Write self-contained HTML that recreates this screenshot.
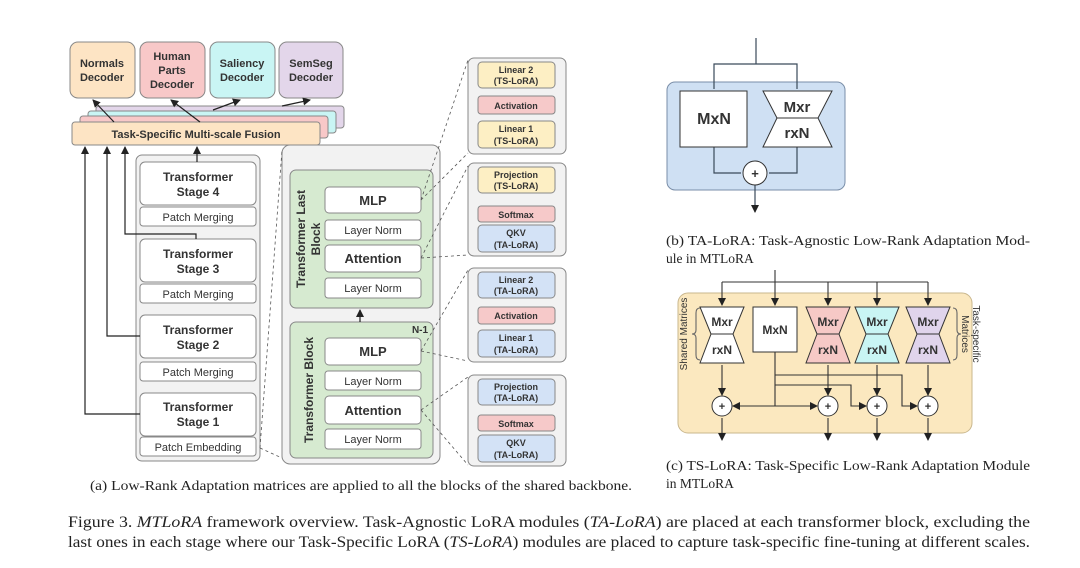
<!DOCTYPE html>
<html><head><meta charset="utf-8"><style>
html,body{margin:0;padding:0;background:#fff}
svg{display:block}
text{font-family:"Liberation Sans",sans-serif;font-weight:bold;fill:#333;text-anchor:middle}
.s{font-family:"Liberation Serif",serif;font-weight:normal;fill:#222;text-anchor:start}
</style></head><body>
<svg width="1080" height="568" viewBox="0 0 1080 568" xmlns="http://www.w3.org/2000/svg">
<defs>
<marker id="a" markerWidth="8" markerHeight="8" refX="7" refY="4" orient="auto" markerUnits="userSpaceOnUse"><path d="M0,0 L8,4 L0,8 z" fill="#222"/></marker>
</defs>
<g stroke="#888" stroke-width="1">
<rect x="70" y="42" width="65" height="56" rx="8" fill="#fde4c4"/>
<rect x="140" y="42" width="65" height="56" rx="8" fill="#f8c8c8"/>
<rect x="210" y="42" width="65" height="56" rx="8" fill="#c9f5f4"/>
<rect x="279" y="42" width="64" height="56" rx="8" fill="#e3d6ea"/>
<rect x="96" y="106" width="248" height="22" rx="3" fill="#e3d6ea"/>
<rect x="88" y="111" width="248" height="22" rx="3" fill="#c9f5f4"/>
<rect x="80" y="116" width="248" height="22" rx="3" fill="#f8c8c8"/>
<rect x="72" y="122" width="248" height="23" rx="3" fill="#fde4c4"/>
<rect x="136" y="155" width="124" height="306" rx="6" fill="#f2f2f2"/>
<rect x="140" y="162" width="116" height="43" rx="5" fill="#fff"/>
<rect x="140" y="207" width="116" height="19" rx="3" fill="#fff"/>
<rect x="140" y="239" width="116" height="43" rx="5" fill="#fff"/>
<rect x="140" y="284" width="116" height="19" rx="3" fill="#fff"/>
<rect x="140" y="315" width="116" height="43" rx="5" fill="#fff"/>
<rect x="140" y="362" width="116" height="19" rx="3" fill="#fff"/>
<rect x="140" y="393" width="116" height="43" rx="5" fill="#fff"/>
<rect x="140" y="437" width="116" height="19" rx="3" fill="#fff"/>
<rect x="282" y="145" width="158" height="319" rx="8" fill="#f2f2f2"/>
<rect x="290" y="170" width="143" height="138" rx="6" fill="#d6ead0"/>
<rect x="290" y="322" width="143" height="136" rx="6" fill="#d6ead0"/>
<rect x="325" y="187" width="96" height="26" rx="4" fill="#fff"/>
<rect x="325" y="220" width="96" height="20" rx="3" fill="#fff"/>
<rect x="325" y="245" width="96" height="27" rx="4" fill="#fff"/>
<rect x="325" y="278" width="96" height="20" rx="3" fill="#fff"/>
<rect x="325" y="338" width="96" height="27" rx="4" fill="#fff"/>
<rect x="325" y="371" width="96" height="19" rx="3" fill="#fff"/>
<rect x="325" y="396" width="96" height="28" rx="4" fill="#fff"/>
<rect x="325" y="429" width="96" height="20" rx="3" fill="#fff"/>
<rect x="468" y="58" width="98" height="96" rx="6" fill="#f2f2f2"/>
<rect x="468" y="163" width="98" height="93" rx="6" fill="#f2f2f2"/>
<rect x="468" y="268" width="98" height="94" rx="6" fill="#f2f2f2"/>
<rect x="468" y="375" width="98" height="91" rx="6" fill="#f2f2f2"/>
<rect x="478" y="62" width="77" height="26" rx="4" fill="#fdefc4"/>
<rect x="478" y="96" width="77" height="18" rx="3" fill="#f6c9c9"/>
<rect x="478" y="121" width="77" height="27" rx="4" fill="#fdefc4"/>
<rect x="478" y="167" width="77" height="26" rx="4" fill="#fdefc4"/>
<rect x="478" y="206" width="77" height="16" rx="3" fill="#f6c9c9"/>
<rect x="478" y="225" width="77" height="27" rx="4" fill="#d3e2f6"/>
<rect x="478" y="272" width="77" height="26" rx="4" fill="#d3e2f6"/>
<rect x="478" y="307" width="77" height="17" rx="3" fill="#f6c9c9"/>
<rect x="478" y="330" width="77" height="27" rx="4" fill="#d3e2f6"/>
<rect x="478" y="379" width="77" height="26" rx="4" fill="#d3e2f6"/>
<rect x="478" y="415" width="77" height="16" rx="3" fill="#f6c9c9"/>
<rect x="478" y="435" width="77" height="27" rx="4" fill="#d3e2f6"/>
</g>
<g fill="none" stroke="#222" stroke-width="1.2">
<line x1="114" y1="122" x2="93" y2="100" marker-end="url(#a)"/>
<line x1="200" y1="122" x2="171" y2="100" marker-end="url(#a)"/>
<line x1="213" y1="110" x2="240" y2="100" marker-end="url(#a)"/>
<line x1="282" y1="106" x2="310" y2="100" marker-end="url(#a)"/>
<line x1="197" y1="162" x2="197" y2="147" marker-end="url(#a)"/>
<polyline points="196,239 196,234 125,234 125,147" marker-end="url(#a)"/>
<polyline points="140,336 107,336 107,147" marker-end="url(#a)"/>
<polyline points="140,414 85,414 85,147" marker-end="url(#a)"/>
<line x1="360" y1="322" x2="360" y2="310" marker-end="url(#a)"/>
</g>
<g fill="none" stroke="#555" stroke-width="0.8" stroke-dasharray="3,3">
<line x1="260" y1="448" x2="282" y2="458"/><line x1="260" y1="448" x2="282" y2="150"/>
<line x1="421" y1="200" x2="468" y2="60"/><line x1="421" y1="200" x2="468" y2="153"/>
<line x1="421" y1="258" x2="468" y2="166"/><line x1="421" y1="258" x2="468" y2="255"/>
<line x1="421" y1="351" x2="468" y2="270"/><line x1="421" y1="351" x2="468" y2="361"/>
<line x1="421" y1="410" x2="468" y2="377"/><line x1="421" y1="410" x2="468" y2="465"/>
</g>
<g font-size="11">
<text x="102" y="67">Normals</text><text x="102" y="81">Decoder</text>
<text x="172" y="60">Human</text><text x="172" y="74">Parts</text><text x="172" y="88">Decoder</text>
<text x="242" y="67">Saliency</text><text x="242" y="81">Decoder</text>
<text x="311" y="67">SemSeg</text><text x="311" y="81">Decoder</text>
<text x="196" y="138">Task-Specific Multi-scale Fusion</text>
</g>
<g font-size="12">
<text x="198" y="181">Transformer</text><text x="198" y="196">Stage 4</text>
<text x="198" y="258">Transformer</text><text x="198" y="273">Stage 3</text>
<text x="198" y="334">Transformer</text><text x="198" y="349">Stage 2</text>
<text x="198" y="411">Transformer</text><text x="198" y="426">Stage 1</text>
</g>
<g font-size="11">
<text x="198" y="221" style="font-weight:normal">Patch Merging</text>
<text x="198" y="298" style="font-weight:normal">Patch Merging</text>
<text x="198" y="376" style="font-weight:normal">Patch Merging</text>
<text x="198" y="451" style="font-weight:normal">Patch Embedding</text>
<text x="373" y="234" style="font-weight:normal">Layer Norm</text>
<text x="373" y="292" style="font-weight:normal">Layer Norm</text>
<text x="373" y="385" style="font-weight:normal">Layer Norm</text>
<text x="373" y="443" style="font-weight:normal">Layer Norm</text>
</g>
<g font-size="13">
<text x="373" y="205">MLP</text><text x="373" y="263">Attention</text>
<text x="373" y="356">MLP</text><text x="373" y="415">Attention</text>
</g>
<text x="420" y="333" font-size="10">N-1</text>
<g font-size="12">
<text transform="translate(305,239) rotate(-90)">Transformer Last</text>
<text transform="translate(320,239) rotate(-90)">Block</text>
<text transform="translate(313,390) rotate(-90)">Transformer Block</text>
</g>
<g font-size="9">
<text x="516" y="73">Linear 2</text><text x="516" y="84">(TS-LoRA)</text>
<text x="516" y="109">Activation</text>
<text x="516" y="132">Linear 1</text><text x="516" y="144">(TS-LoRA)</text>
<text x="516" y="178">Projection</text><text x="516" y="189">(TS-LoRA)</text>
<text x="516" y="218">Softmax</text>
<text x="516" y="236">QKV</text><text x="516" y="248">(TA-LoRA)</text>
<text x="516" y="283">Linear 2</text><text x="516" y="294">(TA-LoRA)</text>
<text x="516" y="319">Activation</text>
<text x="516" y="341">Linear 1</text><text x="516" y="353">(TA-LoRA)</text>
<text x="516" y="390">Projection</text><text x="516" y="401">(TA-LoRA)</text>
<text x="516" y="427">Softmax</text>
<text x="516" y="446">QKV</text><text x="516" y="458">(TA-LoRA)</text>
</g>
<text class="s" x="90" y="490" font-size="13.5" textLength="542" lengthAdjust="spacingAndGlyphs">(a) Low-Rank Adaptation matrices are applied to all the blocks of the shared backbone.</text>
<rect x="667" y="82" width="178" height="108" rx="8" fill="#cfe0f3" stroke="#7a8ea8"/>
<g stroke="#3a4a5a" stroke-width="1.2" fill="none">
<line x1="756" y1="38" x2="756" y2="64"/>
<polyline points="714,89 714,64 797,64 797,89"/>
<polyline points="714,147 714,173 741,173"/>
<polyline points="797,147 797,173 769,173"/>
<line x1="755" y1="185" x2="755" y2="212" marker-end="url(#a)"/>
</g>
<rect x="680" y="91" width="67" height="56" fill="#fff" stroke="#333"/>
<path d="M763,91 H832 L818,118 L832,147 H763 L777,118 Z" fill="#fff" stroke="#333"/>
<line x1="777" y1="118" x2="818" y2="118" stroke="#333"/>
<circle cx="755" cy="173" r="12" fill="#fff" stroke="#333"/>
<text x="755" y="178" font-size="13">+</text>
<text x="714" y="124" font-size="16">MxN</text>
<text x="797" y="112" font-size="15">Mxr</text>
<text x="797" y="138" font-size="15">rxN</text>
<text class="s" x="666" y="245" font-size="13.5" textLength="364" lengthAdjust="spacingAndGlyphs">(b) TA-LoRA: Task-Agnostic Low-Rank Adaptation Mod-</text>
<text class="s" x="666" y="263" font-size="13.5">ule in MTLoRA</text>
<rect x="678" y="293" width="294" height="140" rx="10" fill="#fbe8bf" stroke="#c9b78e"/>
<g stroke="#333" stroke-width="1.1" fill="none">
<line x1="775" y1="270" x2="775" y2="305" marker-end="url(#a)"/>
<line x1="722" y1="282" x2="928" y2="282"/>
<line x1="722" y1="282" x2="722" y2="305" marker-end="url(#a)"/>
<line x1="828" y1="282" x2="828" y2="305" marker-end="url(#a)"/>
<line x1="877" y1="282" x2="877" y2="305" marker-end="url(#a)"/>
<line x1="928" y1="282" x2="928" y2="305" marker-end="url(#a)"/>
<line x1="722" y1="365" x2="722" y2="395" marker-end="url(#a)"/>
<line x1="828" y1="365" x2="828" y2="395" marker-end="url(#a)"/>
<line x1="877" y1="365" x2="877" y2="395" marker-end="url(#a)"/>
<line x1="928" y1="365" x2="928" y2="395" marker-end="url(#a)"/>
<polyline points="775,352 775,406 733,406" marker-end="url(#a)"/>
<line x1="775" y1="406" x2="817" y2="406" marker-end="url(#a)"/>
<polyline points="775,385 851,385 851,406 866,406" marker-end="url(#a)"/>
<polyline points="775,375 902,375 902,406 917,406" marker-end="url(#a)"/>
<line x1="722" y1="418" x2="722" y2="440" marker-end="url(#a)"/>
<line x1="828" y1="418" x2="828" y2="440" marker-end="url(#a)"/>
<line x1="877" y1="418" x2="877" y2="440" marker-end="url(#a)"/>
<line x1="928" y1="418" x2="928" y2="440" marker-end="url(#a)"/>
<path d="M700,308 q-4,0 -4,5 v17 q0,4 -4,4 q4,0 4,4 v17 q0,5 4,5" stroke="#666"/>
<path d="M953,308 q4,0 4,5 v17 q0,4 4,4 q-4,0 -4,4 v17 q0,5 -4,5" stroke="#666"/>
</g>
<rect x="753" y="307" width="44" height="45" fill="#fff" stroke="#333"/>
<g stroke="#333">
<path d="M700,307 H744 L733,334 L744,363 H700 L711,334 Z" fill="#fff"/>
<path d="M806,307 H850 L839,334 L850,363 H806 L817,334 Z" fill="#f6c9c6"/>
<path d="M855,307 H899 L888,334 L899,363 H855 L866,334 Z" fill="#c9f5f4"/>
<path d="M906,307 H950 L939,334 L950,363 H906 L917,334 Z" fill="#e0d4ec"/>
<line x1="711" y1="334" x2="733" y2="334"/><line x1="817" y1="334" x2="839" y2="334"/>
<line x1="866" y1="334" x2="888" y2="334"/><line x1="917" y1="334" x2="939" y2="334"/>
</g>
<g fill="#fff" stroke="#333"><circle cx="722" cy="406" r="10"/><circle cx="828" cy="406" r="10"/><circle cx="877" cy="406" r="10"/><circle cx="928" cy="406" r="10"/></g>
<g font-size="11">
<text x="722" y="410">+</text><text x="828" y="410">+</text><text x="877" y="410">+</text><text x="928" y="410">+</text>
<text x="775" y="334" font-size="12">MxN</text>
<text x="722" y="326" font-size="12">Mxr</text><text x="722" y="354" font-size="12">rxN</text>
<text x="828" y="326" font-size="12">Mxr</text><text x="828" y="354" font-size="12">rxN</text>
<text x="877" y="326" font-size="12">Mxr</text><text x="877" y="354" font-size="12">rxN</text>
<text x="928" y="326" font-size="12">Mxr</text><text x="928" y="354" font-size="12">rxN</text>
</g>
<g font-size="10">
<text transform="translate(687,334) rotate(-90)" style="font-weight:normal">Shared Matrices</text>
<text transform="translate(973,334) rotate(90)" style="font-weight:normal">Task-specific</text>
<text transform="translate(962,334) rotate(90)" style="font-weight:normal">Matrices</text>
</g>
<text class="s" x="666" y="470" font-size="13.5" textLength="364" lengthAdjust="spacingAndGlyphs">(c) TS-LoRA: Task-Specific Low-Rank Adaptation Module</text>
<text class="s" x="666" y="488" font-size="13.5">in MTLoRA</text>
<text class="s" x="68" y="527" font-size="16" textLength="962" lengthAdjust="spacingAndGlyphs">Figure 3. <tspan font-style="italic">MTLoRA</tspan> framework overview. Task-Agnostic LoRA modules (<tspan font-style="italic">TA-LoRA</tspan>) are placed at each transformer block, excluding the</text>
<text class="s" x="68" y="547" font-size="16" textLength="962" lengthAdjust="spacingAndGlyphs">last ones in each stage where our Task-Specific LoRA (<tspan font-style="italic">TS-LoRA</tspan>) modules are placed to capture task-specific fine-tuning at different scales.</text>
</svg>
</body></html>
